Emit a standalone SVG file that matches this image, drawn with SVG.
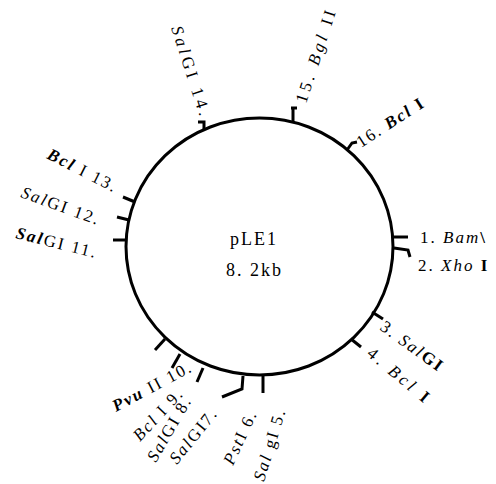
<svg xmlns="http://www.w3.org/2000/svg" width="496" height="484" viewBox="0 0 496 484">
<style>
.lab{font-family:"Liberation Serif","Times New Roman",serif;font-size:17px;letter-spacing:2px;fill:#000}
.wide{letter-spacing:3.5px}
.ctr{font-size:18px}
.it{font-style:italic}
.b{font-weight:bold}
.tick{fill:none;stroke:#000;stroke-width:3;stroke-linecap:butt;stroke-linejoin:miter}
.ring{fill:none;stroke:#000;stroke-width:3}
</style>
<rect width="496" height="484" fill="#fff"/>
<g id="plasmid">
<ellipse class="ring" cx="259.5" cy="246.5" rx="133.5" ry="128.5"/>
<text class="lab ctr" x="230" y="245" letter-spacing="3">pLE1</text>
<text class="lab ctr" x="226" y="276" letter-spacing="1.5">8. 2kb</text>
</g>
<g id="ticks">
<path class="tick" d="M393,237 H408"/>
<path class="tick" d="M394,248 L408,250 L410,257"/>
<path class="tick" d="M372,312 L383,319"/>
<path class="tick" d="M351,339 L361,347"/>
<path class="tick" d="M263,376 V393"/>
<path class="tick" d="M243,376 L242,389 L222,397"/>
<path class="tick" d="M203,368 L197,382"/>
<path class="tick" d="M180,354 L172,368"/>
<path class="tick" d="M165,339 L155,350"/>
<path class="tick" d="M127,240 H113"/>
<path class="tick" d="M129,220 L117,217"/>
<path class="tick" d="M135,202 L123,197"/>
<path class="tick" d="M198,122 H204 V130"/>
<path class="tick" d="M291,108 H297 M293,108 V122"/>
<path class="tick" d="M347,150 L352,143 L357,142"/>
</g>
<g id="site1"><text class="lab" x="420" y="243">1. <tspan class="it">Bam</tspan><tspan class="b">\</tspan></text></g>
<g id="site2"><text class="lab" x="418" y="271">2. <tspan class="it">Xho</tspan> <tspan class="b">I</tspan></text></g>
<g id="site3"><text class="lab" transform="translate(379,329) rotate(36)">3. <tspan class="it">Sal</tspan><tspan class="b">GI</tspan></text></g>
<g id="site4"><text class="lab wide" transform="translate(366,355) rotate(40)">4. <tspan class="it">Bcl</tspan> <tspan class="b">I</tspan></text></g>
<g id="site5"><text class="lab" transform="translate(264,482) rotate(-73)"><tspan class="it">Sal</tspan> gI 5.</text></g>
<g id="site6"><text class="lab" transform="translate(233,466) rotate(-65)"><tspan class="it">Pst</tspan>I 6.</text></g>
<g id="site7"><text class="lab" transform="translate(177,465) rotate(-51)" letter-spacing="3"><tspan class="it">Sal</tspan>GI7.</text></g>
<g id="site8"><text class="lab" transform="translate(156,463) rotate(-60)"><tspan class="it">Sal</tspan>GI 8.</text></g>
<g id="site9"><text class="lab" transform="translate(140,442) rotate(-47)"><tspan class="it">Bcl</tspan> I 9.</text></g>
<g id="site10"><text class="lab" transform="translate(116,412) rotate(-28)"><tspan class="it b">Pvu</tspan> II 10.</text></g>
<g id="site11"><text class="lab" transform="translate(15,238) rotate(14)"><tspan class="it b">Sal</tspan>GI 11.</text></g>
<g id="site12"><text class="lab" transform="translate(20,197) rotate(20)"><tspan class="it">Sal</tspan>GI 12.</text></g>
<g id="site13"><text class="lab" transform="translate(46,158) rotate(27)"><tspan class="it b">Bcl</tspan> I 13.</text></g>
<g id="site14"><text class="lab wide" transform="translate(171,28) rotate(72)"><tspan class="it">Sal</tspan>GI 14.</text></g>
<g id="site15"><text class="lab wide" transform="translate(306,104) rotate(-72)">15. <tspan class="it">Bgl</tspan> II</text></g>
<g id="site16"><text class="lab" transform="translate(361,148) rotate(-33)">16. <tspan class="it b">Bcl</tspan> <tspan class="b">I</tspan></text></g>
</svg>
